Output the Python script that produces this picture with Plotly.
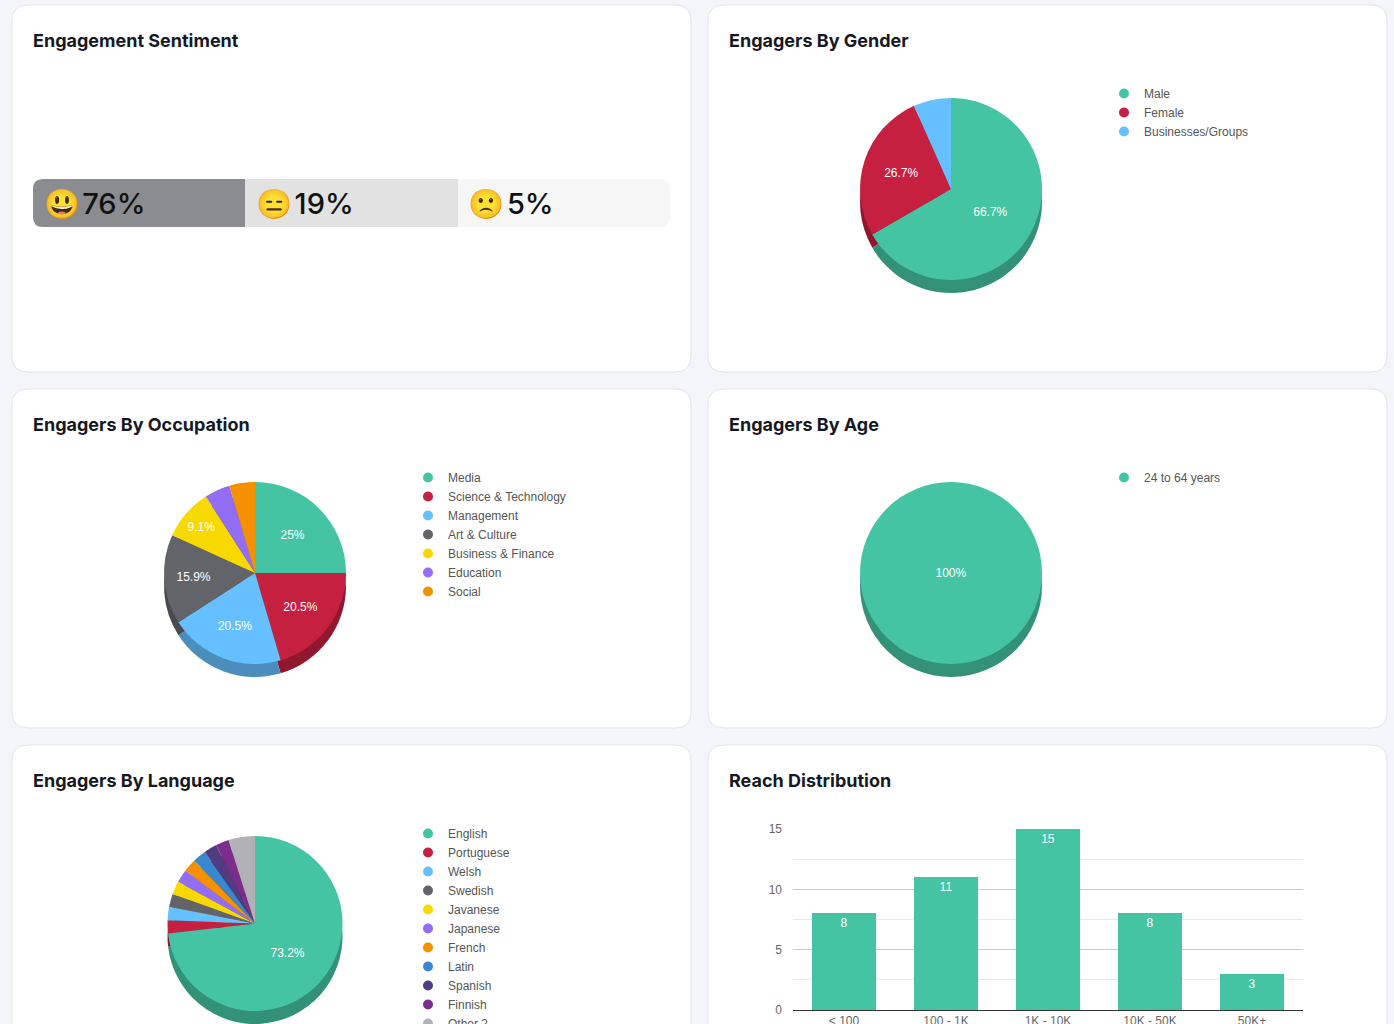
import plotly.graph_objects as go

W, H = 1394, 1024

# ---------------- data ----------------
sent_labels = ["Positive", "Neutral", "Negative"]
sent_emoji = ["😃", "😑", "🙁"]
sent_pct = [76, 19, 5]
sent_colors = ["#8b8c90", "#e2e2e2", "#f6f6f6"]

gender_labels = ["Male", "Female", "Businesses/Groups"]
gender_values = [10, 4, 1]
gender_colors = ["#45c4a3", "#c52040", "#66bfff"]

occ_labels = ["Media", "Science & Technology", "Management", "Art & Culture",
              "Business & Finance", "Education", "Social"]
occ_values = [11, 9, 9, 7, 4, 2, 2]
occ_colors = ["#45c4a3", "#c52040", "#66bfff", "#636469", "#f7d900", "#916ef5", "#f59100"]

age_labels = ["24 to 64 years"]
age_values = [1]
age_colors = ["#45c4a3"]

lang_labels = ["English", "Portuguese", "Welsh", "Swedish", "Javanese", "Japanese",
               "French", "Latin", "Spanish", "Finnish", "Other 2"]
lang_values = [30, 1, 1, 1, 1, 1, 1, 1, 1, 1, 2]
lang_colors = ["#45c4a3", "#c52040", "#66bfff", "#636469", "#f7d900", "#916ef5",
               "#f59100", "#3988cf", "#513c82", "#7c2d8c", "#b2b2b6"]

reach_labels = ["< 100", "100 - 1K", "1K - 10K", "10K - 50K", "50K+"]
reach_values = [8, 11, 15, 8, 3]
reach_color = "#45c4a3"

# ---------------- helpers ----------------
def fx(px):
    return px / W

def fy(py):
    return 1 - py / H

def darken(hexc, f=0.74):
    hexc = hexc.lstrip("#")
    r, g, b = (int(hexc[i:i + 2], 16) for i in (0, 2, 4))
    return "#%02x%02x%02x" % (int(r * f), int(g * f), int(b * f))

def pct_text(values, thresh=8):
    tot = sum(values)
    out = []
    for v in values:
        p = v / tot * 100
        s = ("%.1f" % p).rstrip("0").rstrip(".") + "%"
        out.append(s if p >= thresh else "")
    return out

def card_path(x0, y0, x1, y1, r=16):
    X0, X1 = fx(x0), fx(x1)
    Y0, Y1 = fy(y0), fy(y1)
    rx, ry = r / W, r / H
    return (f"M {X0+rx},{Y0} L {X1-rx},{Y0} Q {X1},{Y0} {X1},{Y0-ry} "
            f"L {X1},{Y1+ry} Q {X1},{Y1} {X1-rx},{Y1} L {X0+rx},{Y1} "
            f"Q {X0},{Y1} {X0},{Y1+ry} L {X0},{Y0-ry} Q {X0},{Y0} {X0+rx},{Y0} Z")

def open_card_path(x0, y0, x1, r=16):
    # card whose bottom runs past the lower edge of the page
    X0, X1 = fx(x0), fx(x1)
    Y0, Yb = fy(y0), -0.05
    rx, ry = r / W, r / H
    return (f"M {X0},{Yb} L {X0},{Y0-ry} Q {X0},{Y0} {X0+rx},{Y0} "
            f"L {X1-rx},{Y0} Q {X1},{Y0} {X1},{Y0-ry} L {X1},{Yb} Z")

def corner_mask(cx, cy, sx, sy, r=10):
    # white mask that rounds one outer corner of the sentiment strip
    X, Y = fx(cx), fy(cy)
    dx, dy = sx * r / W, -sy * r / H
    return (f"M {X},{Y} L {X+dx},{Y} Q {X},{Y} {X},{Y+dy} Z")

fig = go.Figure()

# ---------------- cards ----------------
cards = [(12, 5, 691, 372), (708, 5, 1387, 372),
         (12, 389, 691, 728), (708, 389, 1387, 728)]
shapes = []
for c in cards:
    shapes.append(dict(type="path", xref="paper", yref="paper", path=card_path(*c),
                       fillcolor="white", line=dict(color="#e3e5ea", width=1), layer="below"))
for x0, x1 in [(12, 691), (708, 1387)]:
    shapes.append(dict(type="path", xref="paper", yref="paper", path=open_card_path(x0, 745, x1),
                       fillcolor="white", line=dict(color="#e3e5ea", width=1), layer="below"))
for cx, cy, sx, sy in [(33, 179, 1, 1), (33, 227, 1, -1), (670, 179, -1, 1), (670, 227, -1, -1)]:
    shapes.append(dict(type="path", xref="paper", yref="paper", path=corner_mask(cx, cy, sx, sy),
                       fillcolor="white", line=dict(width=0), layer="above"))

titles = [("Engagement Sentiment", 31, 40), ("Engagers By Gender", 727, 40),
          ("Engagers By Occupation", 31, 424), ("Engagers By Age", 727, 424),
          ("Engagers By Language", 31, 780), ("Reach Distribution", 727, 780)]
annotations = []
for t, x, y in titles:
    annotations.append(dict(text=f"<b>{t}</b>", x=fx(x), y=fy(y), xref="paper", yref="paper",
                            xanchor="left", yanchor="middle", showarrow=False,
                            font=dict(family="Inter, Roboto, sans-serif", size=18, color="#161824")))

# ---------------- sentiment bar ----------------
for lab, emo, p, col in zip(sent_labels, sent_emoji, sent_pct, sent_colors):
    fig.add_trace(go.Bar(
        x=[1], y=[0], orientation="h", width=1, name=lab,
        marker=dict(color=col, line=dict(width=0)),
        text=[f" {emo}\u200a{p}%"], textposition="inside", insidetextanchor="start",
        textfont=dict(family="Inter, Roboto, sans-serif", size=29, color="#121212", weight=500),
        xaxis="x2", yaxis="y2", showlegend=False, hoverinfo="skip"))

# ---------------- pies ----------------
DEPTH = 13
LEG_FONT = dict(family="Liberation Sans, Arial, sans-serif", size=12, color="#555555")

def add_pie(labels, values, colors, cx, top, d, legend):
    cy = top + d / 2
    def dom(dy):
        return dict(x=[fx(cx - d / 2), fx(cx + d / 2)],
                    y=[max(0, fy(cy + dy + d / 2)), fy(cy + dy - d / 2)])
    fig.add_trace(go.Pie(
        labels=labels, values=values, sort=False, direction="clockwise",
        marker=dict(colors=[darken(c) for c in colors], line=dict(width=0)),
        textinfo="none", domain=dom(DEPTH), showlegend=False, hoverinfo="skip"))
    fig.add_trace(go.Pie(
        labels=labels, values=values, sort=False, direction="clockwise",
        marker=dict(colors=colors, line=dict(width=0)),
        text=pct_text(values), textinfo="text", textposition="inside",
        insidetextorientation="horizontal",
        insidetextfont=dict(family="Liberation Sans, Arial, sans-serif", size=12, color="white"),
        domain=dom(0), showlegend=False))
    # legend entries (round markers, like the reference)
    for lab, col in zip(labels, colors):
        fig.add_trace(go.Scatter(
            x=[None], y=[None], mode="markers", name=lab,
            marker=dict(symbol="circle", size=10, color=col),
            xaxis="x3", yaxis="y3", legend=legend, showlegend=True, hoverinfo="skip"))

add_pie(gender_labels, gender_values, gender_colors, 951, 98, 182, "legend")
add_pie(occ_labels, occ_values, occ_colors, 255, 482, 182, "legend2")
add_pie(age_labels, age_values, age_colors, 951, 482, 182, "legend3")
add_pie(lang_labels, lang_values, lang_colors, 255, 836, 175, "legend4")

def leg(x, y):
    return dict(x=fx(x), y=fy(y), xanchor="left", yanchor="top", xref="paper", yref="paper",
                font=LEG_FONT, bgcolor="rgba(0,0,0,0)", itemwidth=30, tracegroupgap=0,
                traceorder="normal", itemclick=False, itemdoubleclick=False)

# ---------------- reach bars ----------------
fig.add_trace(go.Bar(
    x=reach_labels, y=reach_values, marker=dict(color=reach_color, line=dict(width=0)),
    text=reach_values, textposition="inside", insidetextanchor="end",
    textfont=dict(family="Liberation Sans, Arial, sans-serif", size=12, color="white"),
    xaxis="x", yaxis="y", showlegend=False, width=0.62))

fig.update_layout(
    width=W, height=H, margin=dict(l=0, r=0, t=0, b=0, pad=0, autoexpand=False),
    paper_bgcolor="#f4f5f9", plot_bgcolor="rgba(0,0,0,0)",
    shapes=shapes, annotations=annotations,
    barmode="stack",
    legend=leg(1104, 79), legend2=leg(408, 463), legend3=leg(1104, 463), legend4=leg(408, 819),
    xaxis=dict(domain=[fx(793), fx(1303)], showline=True, linecolor="#333333", linewidth=1,
               showgrid=False, ticks="", automargin=False,
               tickfont=dict(family="Liberation Sans, Arial, sans-serif", size=12, color="#666666")),
    yaxis=dict(domain=[fy(1010), fy(829)], range=[0, 15], dtick=5, showgrid=True,
               gridcolor="#cccccc", zeroline=False, ticks="", ticklabelstandoff=10, automargin=False,
               minor=dict(dtick=2.5, showgrid=True, gridcolor="#e8e8e8"),
               tickfont=dict(family="Liberation Sans, Arial, sans-serif", size=12, color="#666666")),
    xaxis2=dict(domain=[fx(33), fx(670)], range=[0, 3], visible=False, anchor="y2", automargin=False),
    yaxis2=dict(domain=[fy(227), fy(179)], range=[-0.5, 0.5], visible=False, anchor="x2", automargin=False),
    xaxis3=dict(domain=[0, 0.001], visible=False, anchor="y3", automargin=False),
    yaxis3=dict(domain=[0, 0.001], visible=False, anchor="x3", automargin=False),
)

fig.write_html("out.html", config={"displayModeBar": False},
               post_script="document.body.style.margin='0';")
